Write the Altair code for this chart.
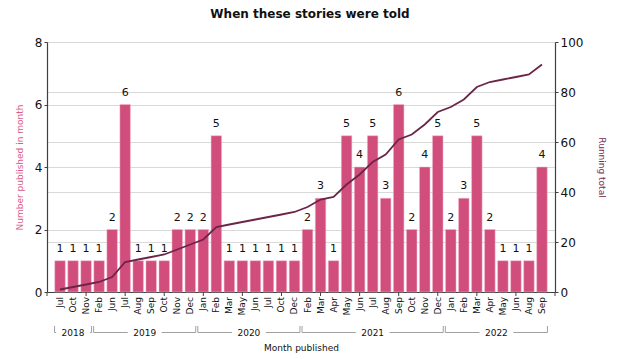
import altair as alt
import pandas as pd

months = ["Jul", "Oct", "Nov",
          "Feb", "Jun", "Jul", "Aug", "Sep", "Oct", "Nov", "Dec",
          "Jan", "Feb", "Mar", "May", "Jun", "Jul", "Oct", "Dec",
          "Feb", "Mar", "Apr", "May", "Jun", "Jul", "Aug", "Sep", "Oct", "Nov", "Dec",
          "Jan", "Feb", "Mar", "Apr", "May", "Jun", "Aug", "Sep"]
counts = [1, 1, 1,
          1, 2, 6, 1, 1, 1, 2, 2,
          2, 5, 1, 1, 1, 1, 1, 1,
          2, 3, 1, 5, 4, 5, 3, 6, 2, 4, 5,
          2, 3, 5, 2, 1, 1, 1, 4]
years = ["2018", "2019", "2020", "2021", "2022"]
months_per_year = [3, 8, 8, 11, 8]

FONT = "DejaVu Sans"
PINK = "#d14d7b"
LINE = "#6b2548"
W, H = 508, 250

df = pd.DataFrame({"idx": list(range(len(months))), "month": months, "count": counts})

# year bracket segments
seg_rows, tick_rows, lab_rows = [], [], []
start = 0
gap = 1.3
for y, n in zip(years, months_per_year):
    s = start - 0.42
    e = start + n - 1 + 0.42
    c = start + (n - 1) / 2
    seg_rows.append({"x": s, "x2": c - gap})
    seg_rows.append({"x": c + gap, "x2": e})
    tick_rows.append({"x": s})
    tick_rows.append({"x": e})
    lab_rows.append({"x": c, "year": y})
    start += n
seg_df = pd.DataFrame(seg_rows)
vt_df = pd.DataFrame(tick_rows)
lab_df = pd.DataFrame(lab_rows)
xticks_df = pd.DataFrame({"x": list(range(-1, len(months) + 1, 3))})

xscale = alt.Scale(domain=[-1, len(months)], nice=False, zero=False, padding=0)

xaxis = alt.Axis(labels=False, ticks=False, grid=False, domainColor="#404040", domainWidth=1.2,
                 title="Month published", titleFont=FONT, titleFontSize=9,
                 titleFontWeight="normal", titleColor="#111", titleY=51)


def X(field):
    return alt.X(field, scale=xscale)


base = alt.Chart(df)

bars = base.mark_bar(width=10.5, color=PINK, stroke="#f3b7cb", strokeWidth=0.5).encode(
    x=alt.X("idx:Q", scale=xscale, axis=xaxis),
    y=alt.Y("count:Q", scale=alt.Scale(domain=[0, 8], nice=False),
            axis=alt.Axis(values=[0, 2, 4, 6, 8], grid=True, gridColor="#d9d9d9",
                          domainColor="#404040", domainWidth=1.2, tickColor="#404040",
                          tickSize=3, labelFont=FONT, labelFontSize=12, labelColor="#111",
                          labelPadding=2,
                          title="Number published in month", titleFont=FONT,
                          titleFontSize=9, titleFontWeight="normal", titleColor="#d9598a",
                          titlePadding=10)),
)

bar_labels = base.mark_text(font=FONT, fontSize=11, color="#111", baseline="bottom", dy=-7).encode(
    x=X("idx:Q"),
    y=alt.Y("count:Q", scale=alt.Scale(domain=[0, 8], nice=False)),
    text="count:Q",
)

month_labels = base.mark_text(font=FONT, fontSize=9, color="#111", angle=270, align="right",
                              baseline="middle").encode(
    x=X("idx:Q"), y=alt.value(H + 5), text="month:N")

left = alt.layer(bars, bar_labels)

line = base.transform_window(total="sum(count)", sort=[{"field": "idx"}]).mark_line(
    color=LINE, strokeWidth=1.8).encode(
    x=X("idx:Q"),
    y=alt.Y("total:Q", scale=alt.Scale(domain=[0, 100], nice=False),
            axis=alt.Axis(orient="right", values=[0, 20, 40, 60, 80, 100], grid=True,
                          gridColor="#d9d9d9", domainColor="#404040", domainWidth=1.2,
                          tickColor="#404040", tickSize=3, labelFont=FONT, labelFontSize=12,
                          labelColor="#111", labelPadding=2,
                          title="Running total", titleFont=FONT, titleFontSize=9,
                          titleFontWeight="normal", titleColor="#7b2d55", titlePadding=14)),
)

xticks = alt.Chart(xticks_df).mark_rule(color="#404040").encode(
    x=X("x:Q"), y=alt.value(H), y2=alt.value(H + 4))

segs = alt.Chart(seg_df).mark_rule(color="#a0a0a0").encode(
    x=X("x:Q"), x2="x2:Q", y=alt.value(H + 40.5))
vts = alt.Chart(vt_df).mark_rule(color="#a0a0a0").encode(
    x=X("x:Q"), y=alt.value(H + 34), y2=alt.value(H + 40.5))
ylabs = alt.Chart(lab_df).mark_text(font=FONT, fontSize=9, color="#111", baseline="middle").encode(
    x=X("x:Q"), y=alt.value(H + 40.5), text="year:N")

right = alt.layer(line)

chart = alt.layer(left, right, xticks, month_labels, segs, vts, ylabs).resolve_scale(
    y="independent").properties(
    width=W, height=H,
    title=alt.TitleParams("When these stories were told", font=FONT, fontSize=12,
                          fontWeight="bold", color="#111", anchor="middle", dx=9, offset=15),
    autosize=alt.AutoSizeParams(type="none"),
    padding={"left": 39, "top": 34, "right": 57, "bottom": 64},
).configure_view(stroke=None)

chart.save("out.html", embed_options={"renderer": "svg", "actions": False})
